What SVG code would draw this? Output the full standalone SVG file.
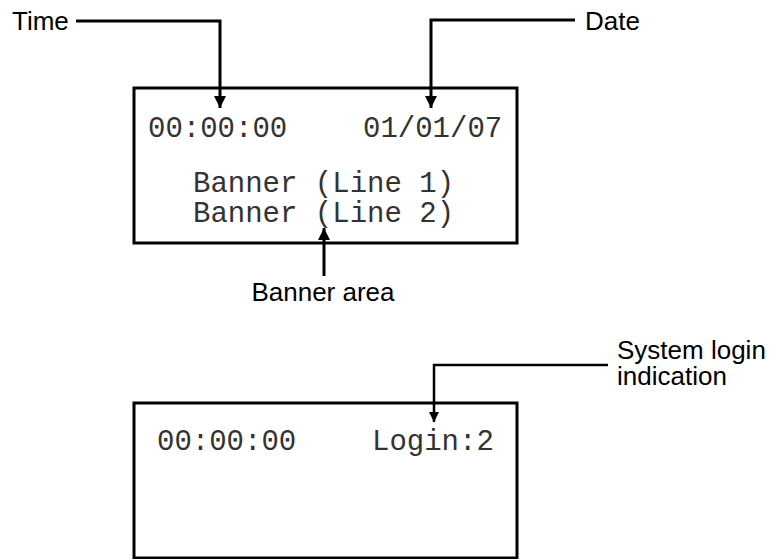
<svg xmlns="http://www.w3.org/2000/svg" width="773" height="559" viewBox="0 0 773 559">
<style>
.box{fill:#fff;stroke:#000;stroke-width:3}
.mono{font-family:"Liberation Mono","Courier New",monospace;font-size:29px;fill:#333}
.lbl{font-family:"Liberation Sans",Arial,sans-serif;font-size:26px;fill:#000}
.conn{fill:none;stroke:#000;stroke-width:3}
</style>
<defs>
<marker id="ah" viewBox="0 0 10 10" refX="10" refY="5" markerWidth="4" markerHeight="4" orient="auto" markerUnits="strokeWidth">
<path d="M0,0 L10,5 L0,10 Z" fill="#000"/>
</marker>
</defs>
<rect width="773" height="559" fill="#fff"/>
<g id="screen1">
<rect class="box" x="134" y="88" width="383" height="155"/>
<text class="mono" x="148" y="137">00:00:00</text>
<text class="mono" x="363" y="137">01/01/07</text>
<text class="mono" x="193" y="192">Banner (Line 1)</text>
<text class="mono" x="193" y="222">Banner (Line 2)</text>
</g>
<g id="screen2">
<rect class="box" x="134" y="403" width="383" height="155"/>
<text class="mono" x="157" y="450">00:00:00</text>
<text class="mono" x="372" y="450">Login:2</text>
</g>
<g id="label-time"><text class="lbl" x="12" y="30">Time</text></g>
<g id="label-date"><text class="lbl" x="585" y="30">Date</text></g>
<g id="label-banner"><text class="lbl" x="323" y="301" text-anchor="middle">Banner area</text></g>
<g id="label-login"><text class="lbl" x="617" y="359">System login</text><text class="lbl" x="617" y="385">indication</text></g>
<g id="connectors">
<path class="conn" d="M76,21 H220 V108" marker-end="url(#ah)"/>
<path class="conn" d="M575,20 H431 V108" marker-end="url(#ah)"/>
<path class="conn" d="M324,276 V228" marker-end="url(#ah)"/>
<path class="conn" d="M608,365 H434 V422" marker-end="url(#ah)" style="stroke-width:2.5"/>
</g>
</svg>
